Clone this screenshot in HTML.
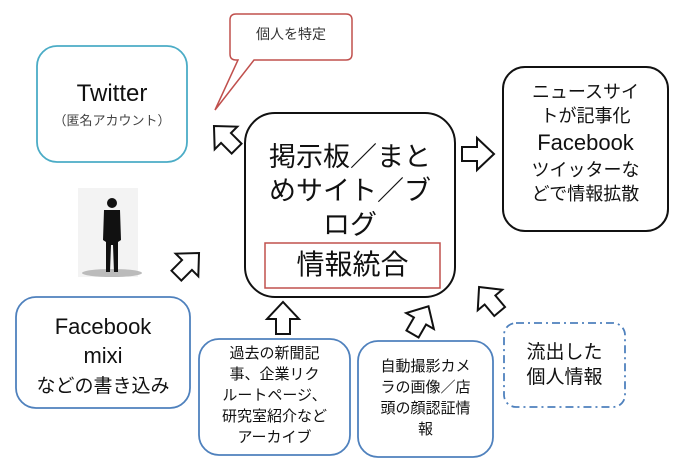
<!DOCTYPE html>
<html><head><meta charset="utf-8"><style>
body{margin:0;width:680px;height:470px;background:#fff;overflow:hidden;font-family:"Liberation Sans","Noto Sans CJK JP",sans-serif;}
svg{position:absolute;left:0;top:0}
.t{position:absolute;text-align:center;color:#111;line-height:1.2}
</style></head><body>
<svg width="680" height="470" viewBox="0 0 680 470">
<defs>
<polygon id="ar" points="-15,-7 0,-7 0,-16 17,0 0,16 0,7 -15,7" fill="#fff" stroke="#111" stroke-width="2"/>
</defs>
<path d="M236,14 H346 Q352,14 352,20 V54 Q352,60 346,60 H254 L215,110 L238,60 H236 Q230,60 230,54 V20 Q230,14 236,14 Z" fill="#fff" stroke="#c0504d" stroke-width="1.5"/>
<rect x="37" y="46" width="150" height="116" rx="20" fill="#fff" stroke="#4bacc6" stroke-width="1.8"/>
<rect x="245" y="113" width="210" height="184" rx="30" fill="#fff" stroke="#111" stroke-width="2"/>
<rect x="265" y="243" width="175" height="45" fill="#fff" stroke="#c0504d" stroke-width="1.5"/>
<rect x="503" y="67" width="165" height="164" rx="22" fill="#fff" stroke="#111" stroke-width="2"/>
<rect x="16" y="297" width="174" height="111" rx="20" fill="#fff" stroke="#4f81bd" stroke-width="1.8"/>
<rect x="199" y="339" width="151" height="116" rx="20" fill="#fff" stroke="#4f81bd" stroke-width="1.8"/>
<rect x="358" y="341" width="135" height="116" rx="20" fill="#fff" stroke="#4f81bd" stroke-width="1.8"/>
<rect x="504" y="323" width="121" height="84" rx="12" fill="#fff" stroke="#4f81bd" stroke-width="1.8" stroke-dasharray="8,4,2,4"/>
<rect x="78" y="188" width="60" height="89" fill="#f3f3f3"/>
<ellipse cx="112" cy="273" rx="30" ry="4" fill="#bbb"/>
<circle cx="112" cy="203" r="5" fill="#111"/>
<path d="M104,210 H120 L121,240 L118,242 L118,272 H114 L113,245 H111 L110,272 H106 L106,242 L103,240 Z" fill="#111"/>
<use href="#ar" transform="translate(477,154)"/>
<use href="#ar" transform="translate(226,138) rotate(-135)"/>
<use href="#ar" transform="translate(187,265) rotate(-45)"/>
<use href="#ar" transform="translate(283,319) rotate(-90)"/>
<use href="#ar" transform="translate(420,321) rotate(-60)"/>
<use href="#ar" transform="translate(490,300) rotate(-130)"/>
</svg>
<div class="t" style="left:230px;top:26px;width:122px;font-size:14px;color:#333">個人を特定</div>
<div class="t" style="left:37px;top:80px;width:150px;font-size:24px;">Twitter</div>
<div class="t" style="left:37px;top:113px;width:150px;font-size:13px;color:#444">（匿名アカウント）</div>
<div class="t" style="left:250px;top:140px;width:200px;font-size:27px;line-height:34px">掲示板／まと<br>めサイト／ブ<br>ログ</div>
<div class="t" style="left:265px;top:247px;width:175px;font-size:28px;line-height:36px">情報統合</div>
<div class="t" style="left:503px;top:80px;width:165px;font-size:18px;line-height:24px">ニュースサイ<br>トが記事化<br><span style="font-size:22px;line-height:30px">Facebook</span><br>ツイッターな<br>どで情報拡散</div>
<div class="t" style="left:16px;top:312px;width:174px;font-size:22px;line-height:29px">Facebook<br>mixi<br><span style="font-size:19px">などの書き込み</span></div>
<div class="t" style="left:199px;top:343px;width:151px;font-size:15px;line-height:21px">過去の新聞記<br>事、企業リク<br>ルートページ、<br>研究室紹介など<br>アーカイブ</div>
<div class="t" style="left:358px;top:356px;width:135px;font-size:15px;line-height:21px">自動撮影カメ<br>ラの画像／店<br>頭の顔認証情<br>報</div>
<div class="t" style="left:504px;top:340px;width:121px;font-size:19px;line-height:25px">流出した<br>個人情報</div>
</body></html>
